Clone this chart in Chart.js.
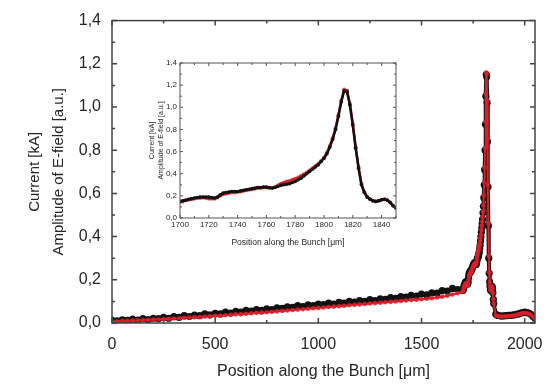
<!DOCTYPE html>
<html>
<head>
<meta charset="utf-8">
<script src="https://cdn.jsdelivr.net/npm/chart.js@4.4.0/dist/chart.umd.min.js"></script>
<style>
  html, body { margin: 0; padding: 0; background: #fff; }
  #wrap { position: relative; width: 556px; height: 388px; }
  #main { position: absolute; left: 0; top: 0; }
  #inset { position: absolute; left: 140px; top: 50px; }
</style>
</head>
<body>
<div id="wrap">
  <canvas id="main" width="556" height="388"></canvas>
  <canvas id="inset" width="270" height="205"></canvas>
</div>
<script>
// Tick labels
const mainXTicks = [0, 500, 1000, 1500, 2000];
const insetXTicks = [1700, 1720, 1740, 1760, 1780, 1800, 1820, 1840];
const yTicks = [0, 0.2, 0.4, 0.6, 0.8, 1.0, 1.2, 1.4];

// Bunch body, 0 .. 1675 um
const bodyPos = [
  0, 25, 50, 75, 100, 125, 150, 175, 200, 225,
  250, 275, 300, 325, 350, 375, 400, 425, 450, 475,
  500, 525, 550, 575, 600, 625, 650, 675, 700, 725,
  750, 775, 800, 825, 850, 875, 900, 925, 950, 975,
  1000, 1025, 1050, 1075, 1100, 1125, 1150, 1175, 1200, 1225,
  1250, 1275, 1300, 1325, 1350, 1375, 1400, 1425, 1450, 1475,
  1500, 1525, 1550, 1575, 1600, 1625, 1650, 1675
];
const bodyCurrent = [
  .012, .010, .015, .012, .018, .014, .020, .016, .022, .020,
  .026, .022, .030, .026, .034, .030, .036, .034, .042, .038,
  .045, .042, .050, .046, .054, .050, .058, .055, .062, .058,
  .066, .062, .070, .068, .075, .072, .080, .076, .084, .080,
  .088, .085, .092, .088, .096, .092, .100, .097, .104, .100,
  .108, .104, .112, .110, .118, .114, .122, .120, .128, .125,
  .134, .130, .140, .138, .150, .148, .160, .155
];
const bodyField = [
  .008, .008, .010, .010, .012, .012, .014, .014, .016, .016,
  .018, .019, .021, .022, .024, .025, .027, .028, .030, .031,
  .033, .034, .036, .038, .040, .041, .043, .045, .047, .048,
  .050, .052, .054, .056, .058, .060, .062, .064, .066, .068,
  .070, .072, .074, .076, .078, .080, .082, .084, .086, .088,
  .090, .092, .094, .096, .098, .100, .102, .104, .106, .108,
  .110, .112, .115, .118, .122, .126, .132, .138
];

// Peak region, 1700 .. 1850 um (also the inset)
const peakPos = [
  1700, 1702, 1704, 1706, 1708, 1710, 1712, 1714, 1716, 1718,
  1720, 1722, 1724, 1726, 1728, 1730, 1732, 1734, 1736, 1738,
  1740, 1742, 1744, 1746, 1748, 1750, 1752, 1754, 1756, 1758,
  1760, 1762, 1764, 1766, 1768, 1770, 1772, 1774, 1776, 1778,
  1780, 1782, 1784, 1786, 1788, 1790, 1792, 1794, 1796, 1798,
  1800, 1802, 1804, 1806, 1808, 1810, 1812, 1814, 1816, 1818,
  1820, 1822, 1824, 1826, 1828, 1830, 1832, 1834, 1836, 1838,
  1840, 1842, 1844, 1846, 1848, 1850
];
const peakCurrent = [
  .150, .155, .160, .170, .175, .180, .185, .190, .190, .190,
  .190, .185, .180, .190, .210, .225, .230, .235, .240, .240,
  .240, .245, .250, .255, .260, .265, .270, .275, .275, .280,
  .280, .275, .270, .275, .285, .295, .300, .305, .310, .320,
  .330, .345, .360, .380, .400, .420, .440, .460, .480, .510,
  .540, .580, .640, .710, .800, .920, 1.05, 1.15, 1.14, 1.02,
  .840, .630, .450, .300, .230, .190, .170, .155, .150, .155,
  .165, .170, .160, .140, .110, .090
];
const peakField = [
  .145, .150, .160, .165, .170, .175, .180, .180, .185, .180,
  .175, .175, .175, .185, .200, .215, .220, .225, .230, .230,
  .235, .240, .245, .250, .255, .260, .265, .270, .270, .275,
  .275, .270, .270, .280, .295, .310, .320, .330, .335, .345,
  .355, .365, .380, .395, .410, .430, .450, .470, .490, .515,
  .545, .590, .650, .720, .810, .930, 1.06, 1.16, 1.15, 1.03,
  .850, .640, .460, .310, .235, .190, .170, .155, .150, .155,
  .165, .170, .160, .140, .110, .090
];

// Tail, 1860 .. 2050 um
const tailPos = [1860, 1870, 1880, 1890, 1900, 1910, 1920, 1930, 1940, 1950,
  1960, 1970, 1980, 1990, 2000, 2010, 2020, 2030, 2040, 2050];
const tailCurrent = [.040, .035, .033, .032, .033, .034, .035, .035, .036, .038,
  .040, .042, .046, .048, .050, .048, .046, .040, .030, .022];
const tailField = [.035, .032, .030, .030, .030, .031, .032, .032, .033, .035,
  .037, .040, .043, .045, .046, .045, .043, .037, .028, .020];

const BLACK = '#111111';
const RED = '#d91f2a';
const TEXT = '#262626';

Chart.defaults.font.family = '"Liberation Sans", Arial, sans-serif';
Chart.defaults.color = TEXT;
Chart.defaults.animation = false;
Chart.defaults.plugins.legend.display = false;
Chart.defaults.plugins.tooltip.enabled = false;
Chart.defaults.elements.line.borderJoinStyle = 'round';
Chart.defaults.elements.line.borderCapStyle = 'round';

function points(pos, vals) {
  return pos.map((p, i) => ({ x: p, y: vals[i] }));
}

function onStep(v, step) {
  const r = v / step;
  return Math.abs(r - Math.round(r)) < 1e-6;
}

const useTicks = (values) => (s) => { s.ticks = values.map((v) => ({ value: v })); };

// Box frame with inward major/minor ticks on all four sides
const frameTicks = {
  id: 'frameTicks',
  afterDatasetsDraw(chart, args, o) {
    const { ctx, chartArea: a } = chart;
    const sx = chart.scales.x, sy = chart.scales.y;
    ctx.save();
    ctx.strokeStyle = o.color;
    ctx.lineWidth = o.lineWidth;
    ctx.beginPath();
    for (let v = sx.min; v <= sx.max + 1e-6; v += o.xMinor) {
      const px = sx.getPixelForValue(v);
      const len = onStep(v - sx.min, o.xMajor) ? o.major : o.minor;
      ctx.moveTo(px, a.bottom); ctx.lineTo(px, a.bottom - len);
      ctx.moveTo(px, a.top); ctx.lineTo(px, a.top + len);
    }
    for (let v = sy.min; v <= sy.max + 1e-6; v += o.yMinor) {
      const py = sy.getPixelForValue(v);
      const len = onStep(v - sy.min, o.yMajor) ? o.major : o.minor;
      ctx.moveTo(a.left, py); ctx.lineTo(a.left + len, py);
      ctx.moveTo(a.right, py); ctx.lineTo(a.right - len, py);
    }
    ctx.stroke();
    ctx.strokeRect(a.left, a.top, a.right - a.left, a.bottom - a.top);
    ctx.restore();
  }
};

const commaLabel = (v) => v.toFixed(1).replace('.', ',');

new Chart(document.getElementById('main'), {
  type: 'line',
  data: {
    datasets: [
      {
        data: points(bodyPos, bodyField).concat(points(peakPos, peakField), points(tailPos, tailField)),
        borderColor: RED,
        borderWidth: 2,
        pointRadius: 2.3,
        pointBorderWidth: 0,
        pointBackgroundColor: 'rgba(217, 31, 42, 0.85)',
      },
      {
        data: points(bodyPos, bodyCurrent).concat(points(peakPos, peakCurrent), points(tailPos, tailCurrent)),
        borderColor: BLACK,
        borderWidth: 4,
        pointRadius: 3.6,
        pointBorderWidth: 0,
        pointBackgroundColor: BLACK,
      },
    ],
  },
  options: {
    responsive: false,
    layout: { padding: { top: 14, right: 21, left: 0, bottom: 0 } },
    scales: {
      x: {
        type: 'linear',
        min: 0,
        max: 2050,
        grid: { display: false, drawTicks: false },
        border: { display: false },
        afterBuildTicks: useTicks(mainXTicks),
        ticks: {
          padding: 12,
          maxRotation: 0,
          autoSkip: false,
          font: { size: 16 },
          color: TEXT,
          callback: (v) => String(v),
        },
        title: {
          display: true,
          text: 'Position along the Bunch [μm]',
          font: { size: 16 },
          color: TEXT,
          padding: { top: 0, bottom: 7 },
        },
        afterFit: (s) => { s.height = 65; },
      },
      y: {
        min: 0,
        max: 1.4,
        grid: { display: false, drawTicks: false },
        border: { display: false },
        afterBuildTicks: useTicks(yTicks),
        ticks: {
          padding: 11,
          autoSkip: false,
          font: { size: 16 },
          color: TEXT,
          callback: commaLabel,
        },
        title: {
          display: true,
          text: ['Current [kA]', 'Amplitude of E-field [a.u.]'],
          font: { size: 15, lineHeight: 1.66 },
          color: TEXT,
          padding: { top: 22, bottom: 0 },
        },
        afterFit: (s) => { s.width = 112; },
      },
    },
    plugins: {
      frameTicks: { color: '#444', lineWidth: 1.5, xMajor: 500, xMinor: 250, yMajor: 0.2, yMinor: 0.1, major: 5, minor: 3 },
    },
  },
  plugins: [frameTicks],
});

new Chart(document.getElementById('inset'), {
  type: 'line',
  data: {
    datasets: [
      {
        data: points(peakPos, peakCurrent),
        borderColor: BLACK,
        borderWidth: 2.5,
        pointRadius: 1.8,
        pointBorderWidth: 0,
        pointBackgroundColor: BLACK,
      },
      {
        data: points(peakPos, peakField),
        borderColor: RED,
        borderWidth: 2.5,
        pointRadius: 2,
        pointBorderWidth: 0,
        pointBackgroundColor: 'rgba(217, 31, 42, 0.7)',
      },
    ],
  },
  options: {
    responsive: false,
    layout: { padding: { top: 13, right: 14, left: 0, bottom: 0 } },
    scales: {
      x: {
        type: 'linear',
        min: 1700,
        max: 1850,
        grid: { display: false, drawTicks: false },
        border: { display: false },
        afterBuildTicks: useTicks(insetXTicks),
        ticks: {
          padding: 2,
          maxRotation: 0,
          autoSkip: false,
          font: { size: 8 },
          color: TEXT,
          callback: (v) => String(v),
        },
        title: {
          display: true,
          text: 'Position along the Bunch [μm]',
          font: { size: 8.5 },
          color: TEXT,
          padding: { top: 0, bottom: 7 },
        },
        afterFit: (s) => { s.height = 37; },
      },
      y: {
        min: 0,
        max: 1.4,
        grid: { display: false, drawTicks: false },
        border: { display: false },
        afterBuildTicks: useTicks(yTicks),
        ticks: {
          padding: 3,
          autoSkip: false,
          font: { size: 8 },
          color: TEXT,
          callback: commaLabel,
        },
        title: {
          display: true,
          text: ['Current [kA]', 'Amplitude of E-field [a.u.]'],
          font: { size: 7, lineHeight: 1.25 },
          color: TEXT,
          padding: { top: 7.5, bottom: 0 },
        },
        afterFit: (s) => { s.width = 40; },
      },
    },
    plugins: {
      frameTicks: { color: '#555', lineWidth: 1, xMajor: 20, xMinor: 10, yMajor: 0.2, yMinor: 0.1, major: 3, minor: 2 },
    },
  },
  plugins: [frameTicks],
});
</script>
</body>
</html>
